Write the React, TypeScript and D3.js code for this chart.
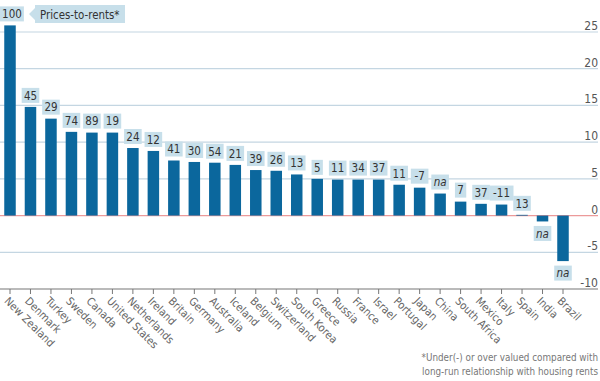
import React from "react";
import * as d3 from "d3";

const countries = ["New Zealand","Denmark","Turkey","Sweden","Canada","United States","Netherlands","Ireland","Britain","Germany","Australia","Iceland","Belgium","Switzerland","South Korea","Greece","Russia","France","Israel","Portugal","Japan","China","South Africa","Mexico","Italy","Spain","India","Brazil"];
const valuation = [25.9,14.8,13.2,11.4,11.3,11.3,9.2,8.8,7.5,7.3,7.2,6.9,6.2,6.1,5.6,5.0,4.9,4.9,4.9,4.2,3.8,3.0,1.9,1.6,1.5,0.1,-0.8,-6.2];
const pricesToRents = ["100","45","29","74","89","19","24","12","41","30","54","21","39","26","13","5","11","34","37","11","-7","na","7","37","-11","13","na","na"];
const yTicks = [-10,-5,0,5,10,15,20,25];
const legendLabel = "Prices-to-rents*";
const footnote = ["*Under(-) or over valued compared with", "long-run relationship with housing rents"];

const W = 600, H = 381;
const FONT = "'DejaVu Sans Condensed', 'DejaVu Sans', sans-serif";
const BAR = "#0b679d";
const BOX = "#c7dfea";

export default function App() {
  const x = d3.scalePoint<string>().domain(countries).range([10, 563]);
  const y = d3.scaleLinear().domain([-10, 25]).range([289, 32]);
  const bw = 11.5;
  const boxH = 15;
  return (
    <svg width={W} height={H} style={{ position: "absolute", left: 0, top: 0, background: "#fff" }} fontFamily={FONT}>
      {yTicks.map((t) => (
        <g key={t}>
          <line x1={0} x2={598} y1={y(t)} y2={y(t)}
            stroke={t === 0 ? "#ec9a9a" : t === -10 ? "#777" : "#c4d6e2"} strokeWidth={1.2} />
          <text x={598} y={y(t) - 2} textAnchor="end" fontSize={12} fill="#555">{t}</text>
        </g>
      ))}
      {countries.map((c, i) => {
        const v = valuation[i];
        const cx = x(c)!;
        const top = y(Math.max(0, v));
        const bot = y(Math.min(0, v));
        const lab = pricesToRents[i];
        const isNa = lab === "na";
        const tw = lab.length * 6.3 + 5;
        const bx = Math.max(0, cx - tw / 2);
        const by = v >= 0 ? top - 4 - boxH : bot + 4.5;
        return (
          <g key={c}>
            <rect x={cx - bw / 2} y={top} width={bw} height={Math.max(0.8, bot - top)} fill={BAR} />
            <line x1={cx} x2={cx} y1={289} y2={294} stroke="#777" strokeWidth={1} />
            <rect x={bx} y={by} width={tw} height={boxH} fill={BOX} />
            <text x={bx + tw / 2} y={by + 11.8} textAnchor="middle" fontSize={11.5} fill="#333"
              fontStyle={isNa ? "italic" : "normal"}>{lab}</text>
            <text transform={`translate(${cx},${297}) rotate(45)`} dy="0.7em" dx={-1} fontSize={11} fill="#666">{c}</text>
          </g>
        );
      })}
      <g>
        <path d="M29,14 L35,8 L35,5 L125,5 L125,23 L35,23 L35,20 Z" fill={BOX} />
        <text x={40} y={18.5} fontSize={11.4} fill="#333">{legendLabel}</text>
      </g>
      {footnote.map((f, i) => (
        <text key={i} x={598} y={361 + i * 14} textAnchor="end" fontSize={9.8} fill="#777">{f}</text>
      ))}
    </svg>
  );
}
